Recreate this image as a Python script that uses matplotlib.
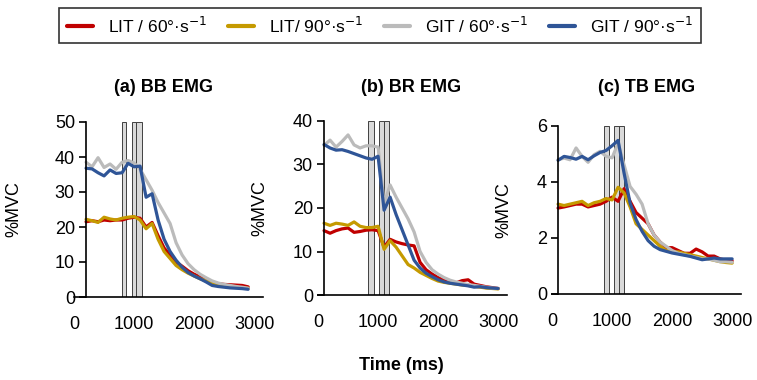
import matplotlib
matplotlib.use("Agg")
import matplotlib.pyplot as plt

plt.rcParams['font.family'] = ['Liberation Sans', 'DejaVu Sans']

# ---------------- data ----------------
series_labels = ["LIT / 60°·s$^{-1}$", "LIT/ 90°·s$^{-1}$", "GIT / 60°·s$^{-1}$", "GIT / 90°·s$^{-1}$"]
series_colors = ["#C00000", "#C59A00", "#BBBBBB", "#2F5597"]

titles = ["(a) BB EMG", "(b) BR EMG", "(c) TB EMG"]

time_a = [200, 300, 400, 500, 600, 700, 800, 900, 1000, 1100, 1200, 1300, 1400, 1500,
          1600, 1700, 1800, 1900, 2000, 2100, 2200, 2300, 2400, 2500, 2600, 2700, 2800, 2900]
time_bc = [100, 200, 300, 400, 500, 600, 700, 800, 900, 1000, 1100, 1200, 1300, 1400, 1500,
           1600, 1700, 1800, 1900, 2000, 2100, 2200, 2300, 2400, 2500, 2600, 2700, 2800, 2900, 3000]

# (a) BB EMG
bb_lit60 = [21.5, 21.8, 21.5, 22.0, 21.8, 22.0, 22.0, 22.5, 22.8, 22.5, 20.0, 21.3, 17.5, 14.0,
            12.0, 10.0, 8.8, 7.5, 6.5, 5.8, 5.0, 4.3, 3.8, 3.6, 3.5, 3.4, 3.3, 2.9]
bb_lit90 = [22.2, 21.8, 21.3, 22.8, 22.3, 22.0, 22.5, 22.8, 23.0, 22.0, 19.5, 21.0, 16.5, 13.0,
            11.0, 9.0, 7.8, 6.8, 6.0, 5.2, 4.6, 4.0, 3.5, 3.2, 3.0, 2.8, 2.6, 2.5]
bb_git60 = [38.5, 37.2, 39.8, 37.0, 38.0, 36.5, 38.5, 39.0, 38.3, 36.5, 33.5, 30.5, 27.0, 24.0,
            21.0, 15.5, 12.0, 9.5, 7.8, 6.5, 5.5, 4.6, 4.0, 3.6, 3.3, 3.0, 2.8, 2.5]
bb_git90 = [36.8, 36.6, 35.5, 34.6, 36.3, 35.3, 35.5, 38.2, 37.2, 37.4, 28.5, 29.5, 22.0, 16.5,
            13.0, 10.5, 8.5, 7.0, 6.0, 5.2, 4.3, 3.3, 3.0, 2.8, 2.6, 2.5, 2.4, 2.2]

# (b) BR EMG
br_lit60 = [14.8, 14.2, 14.8, 15.2, 15.4, 14.4, 14.6, 14.9, 15.0, 14.8, 11.0, 12.8, 12.2, 11.8,
            11.5, 11.3, 7.5, 5.8, 4.8, 4.0, 3.4, 3.0, 2.8, 3.3, 3.5, 2.5, 2.2, 1.9, 1.7, 1.5]
br_lit90 = [16.5, 16.0, 16.5, 16.3, 16.0, 16.8, 15.8, 15.5, 15.5, 15.8, 10.5, 12.5, 11.0, 9.0,
            7.0, 6.2, 5.2, 4.5, 3.8, 3.2, 2.9, 2.7, 2.5, 2.3, 2.2, 2.0, 1.8, 1.6, 1.5, 1.4]
br_git60 = [34.4, 35.6, 34.0, 35.3, 36.8, 34.5, 33.8, 34.3, 34.3, 34.0, 21.0, 25.3, 22.5, 20.0,
            17.5, 14.5, 10.0, 7.5, 5.8, 4.8, 4.0, 3.4, 3.0, 2.7, 2.4, 2.2, 2.0, 1.8, 1.6, 1.5]
br_git90 = [34.6, 33.8, 33.3, 33.4, 33.0, 32.5, 32.0, 31.5, 31.2, 31.9, 19.5, 22.5, 18.5, 15.0,
            11.5, 8.0, 6.2, 5.0, 4.2, 3.5, 3.0, 2.7, 2.5, 2.3, 2.1, 1.8, 1.9, 1.7, 1.6, 1.5]

# (c) TB EMG
tb_lit60 = [3.06, 3.10, 3.15, 3.20, 3.20, 3.10, 3.15, 3.20, 3.30, 3.45, 3.30, 3.75, 3.30, 2.90,
            2.70, 2.50, 2.10, 1.85, 1.65, 1.65, 1.55, 1.45, 1.45, 1.60, 1.50, 1.35, 1.35, 1.25, 1.20, 1.18]
tb_lit90 = [3.20, 3.15, 3.20, 3.25, 3.30, 3.15, 3.25, 3.30, 3.40, 3.35, 3.80, 3.60, 3.10, 2.50,
            2.30, 2.10, 1.90, 1.70, 1.55, 1.50, 1.50, 1.45, 1.40, 1.35, 1.30, 1.25, 1.20, 1.15, 1.12, 1.10]
tb_git60 = [4.78, 4.84, 4.78, 5.20, 4.90, 4.69, 4.96, 5.08, 4.90, 4.85, 5.37, 4.60, 3.83, 3.55,
            3.20, 2.50, 2.10, 1.85, 1.70, 1.55, 1.45, 1.40, 1.35, 1.30, 1.25, 1.25, 1.20, 1.15, 1.15, 1.13]
tb_git90 = [4.76, 4.90, 4.86, 4.80, 4.90, 4.78, 4.92, 5.04, 5.11, 5.28, 5.47, 4.30, 3.24, 2.65,
            2.23, 1.90, 1.70, 1.58, 1.52, 1.46, 1.42, 1.38, 1.34, 1.28, 1.22, 1.25, 1.28, 1.25, 1.25, 1.25]

# shaded time windows (ms) per panel
windows_a = [(805, 870), (967, 1033), (1033, 1131)]
windows_b = [(836, 934), (1016, 1098), (1098, 1180)]
windows_c = [(864, 946), (1038, 1110), (1110, 1192)]

x_ticks = [0, 1000, 2000, 3000]
y_ticks = [[0, 10, 20, 30, 40, 50], [0, 10, 20, 30, 40], [0, 2, 4, 6]]

panel_times = [time_a, time_bc, time_bc]
panel_windows = [windows_a, windows_b, windows_c]
panel_series = [
    [bb_lit60, bb_lit90, bb_git60, bb_git90],
    [br_lit60, br_lit90, br_git60, br_git90],
    [tb_lit60, tb_lit90, tb_git60, tb_git90],
]

# ---------------- figure ----------------
W, H = 757, 380
fig = plt.figure(figsize=(W / 100, H / 100), dpi=100)

XMIN, XMAX = 50, 3150
PX_PER_MS = 0.061
# pixel position of x = 0, top, bottom of each panel
zeros = [71, 315, 549]
tops = [122, 121, 125.5]
bottoms = [297, 295, 294]
ylabel_x = [22, 268, 512]
title_x = [163, 411, 647]

for i in range(3):
    l = zeros[i] + PX_PER_MS * XMIN
    r = zeros[i] + PX_PER_MS * XMAX
    t, b = tops[i], bottoms[i]
    ax = fig.add_axes([l / W, 1 - b / H, (r - l) / W, (b - t) / H])
    ax.set_xlim(XMIN, XMAX)
    ax.set_ylim(y_ticks[i][0], y_ticks[i][-1])
    for s0, s1 in panel_windows[i]:
        ax.axvspan(s0, s1, facecolor="#D9D9D9", edgecolor="#404040", linewidth=0.7, zorder=1)
    times = panel_times[i]
    for vals, col, lab in zip(panel_series[i], series_colors, series_labels):
        ax.plot(times, vals, color=col, lw=2.3, label=lab, zorder=3,
                solid_joinstyle="round", solid_capstyle="round")
    ax.spines['top'].set_visible(False)
    ax.spines['right'].set_visible(False)
    ax.spines['left'].set_position(('data', times[0]))
    for sp in ('left', 'bottom'):
        ax.spines[sp].set_linewidth(1.2)
        ax.spines[sp].set_color('black')
        ax.spines[sp].set_zorder(4)
    ax.set_xticks(x_ticks)
    ax.set_yticks(y_ticks[i])
    ax.tick_params(axis='x', length=0, pad=14, labelsize=13)
    ax.tick_params(axis='y', length=5, width=1.2, direction='out', pad=3, labelsize=13)
    ax.set_ylabel("%MVC", fontsize=13)
    ax.yaxis.set_label_coords(((ylabel_x[i] - l) / (r - l)), 0.5)
    fig.text(title_x[i] / W, 1 - 88 / H, titles[i], ha='center', va='center',
             fontsize=13, fontweight='bold')
    if i == 0:
        handles, labels = ax.get_legend_handles_labels()

fig.text(401 / W, 1 - 366 / H, "Time (ms)", ha='center', va='center', fontsize=13, fontweight='bold')

leg = fig.legend(handles, labels, loc='center', bbox_to_anchor=(380 / W, 1 - 25.5 / H), ncol=4,
                 fontsize=12.5, frameon=True, fancybox=False, edgecolor='black',
                 handlelength=1.5, handletextpad=0.85, columnspacing=1.2, borderpad=0.45)
leg.get_frame().set_linewidth(1.2)
for lh in leg.get_lines():
    lh.set_linewidth(3)

fig.savefig("out.png", dpi=100)
